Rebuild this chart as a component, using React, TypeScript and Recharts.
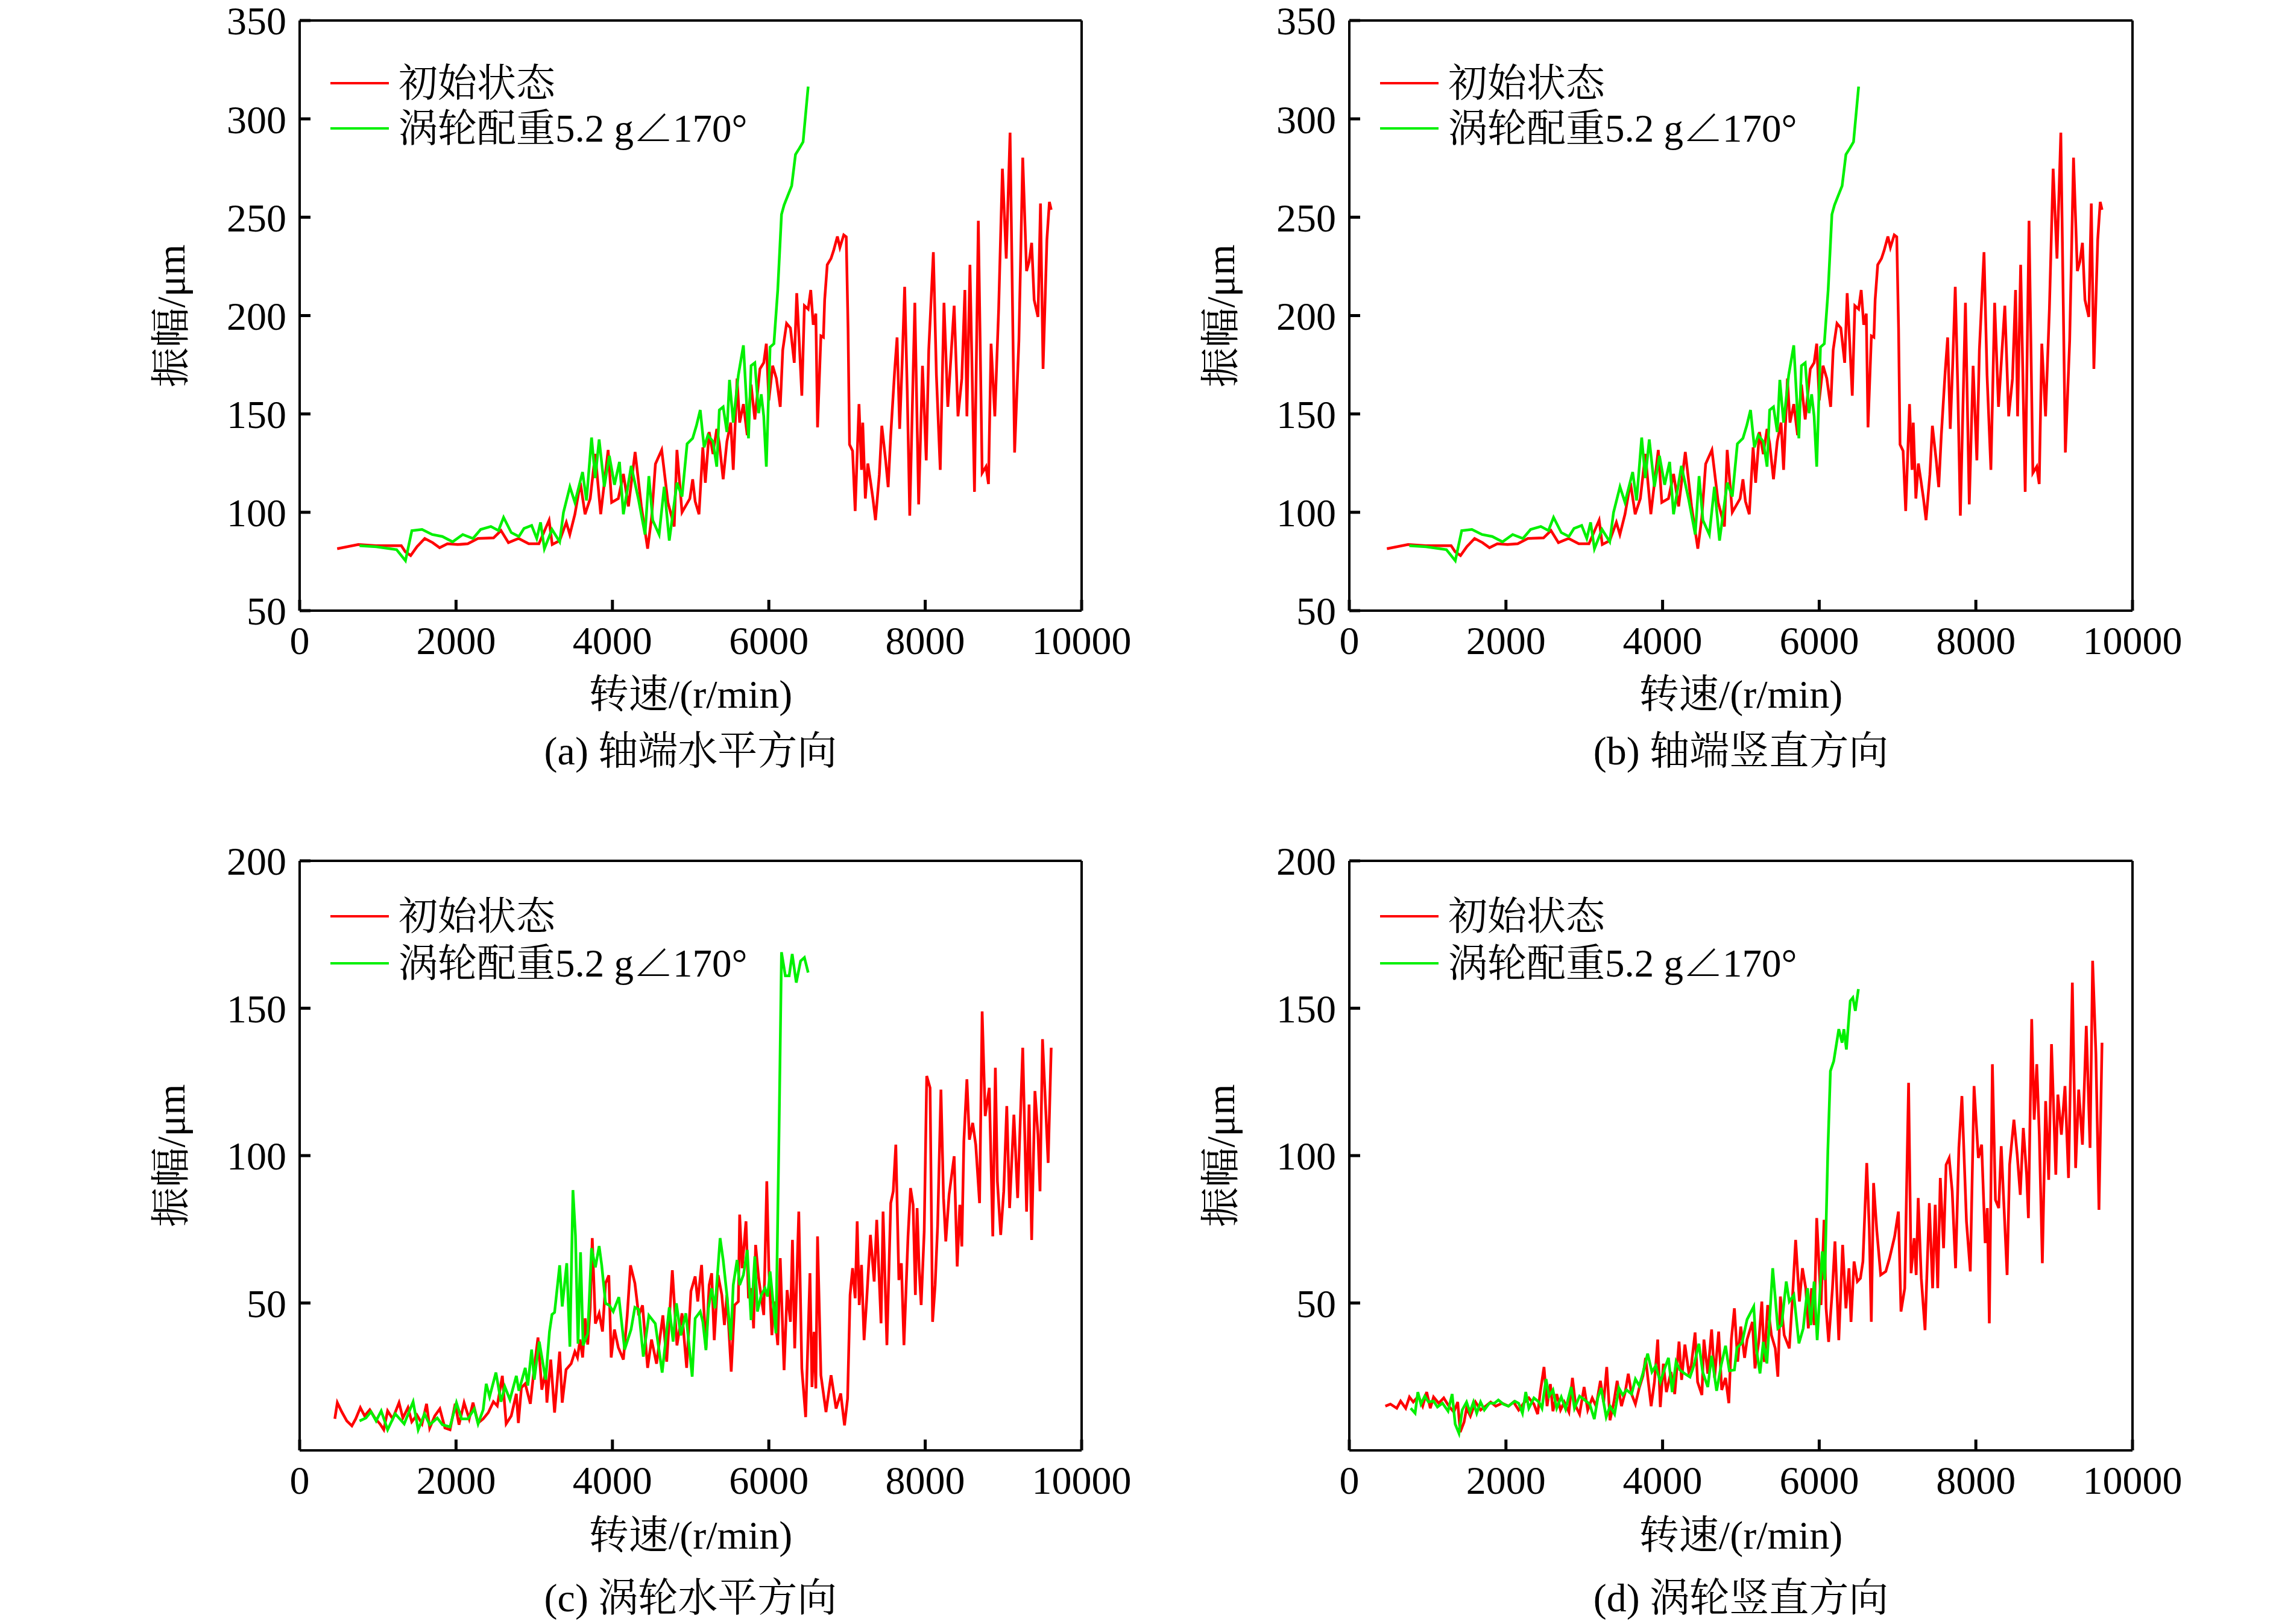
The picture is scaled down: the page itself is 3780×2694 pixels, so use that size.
import React from 'react';
import { CartesianGrid, Line, LineChart, XAxis, YAxis } from 'recharts';

const FONT = "'Liberation Serif', 'Noto Serif CJK SC', 'Noto Sans CJK SC', serif";
const RED = '#ff0000';
const GREEN = '#00f000';
const AXIS = '#000000';

const SPEED_TICKS = [0, 2000, 4000, 6000, 8000, 10000];
const SHAFT_TICKS = [50, 100, 150, 200, 250, 300, 350];
const TURBINE_TICKS = [50, 100, 150, 200];
const LEGEND = ['初始状态', '涡轮配重5.2 g∠170°'];

// [speed r/min, amplitude µm]; (a) and (b) show the same curves
const shaftInitial: [number, number][] = [
  [480, 81.5], [750, 83.6], [980, 83], [1300, 83], [1350, 80], [1420, 78], [1500, 82.5], [1600, 86.7],
  [1700, 84.6], [1790, 82], [1890, 84], [2020, 83.6], [2150, 84], [2280, 86.7], [2480, 87], [2575, 90.7],
  [2670, 84.6], [2800, 86.7], [2930, 84], [3060, 84], [3190, 96], [3230, 83.6], [3325, 85.6], [3410, 94.9],
  [3455, 88.7], [3520, 99], [3590, 115], [3650, 99], [3716, 107], [3780, 129.7], [3850, 99], [3945, 131.7],
  [3990, 105], [4075, 107], [4140, 119.5], [4205, 103], [4290, 130.7], [4370, 103], [4450, 81.5], [4500, 97],
  [4550, 124.6], [4630, 131.7], [4710, 105], [4790, 92.8], [4825, 131.7], [4890, 100], [4990, 107],
  [5026, 116.8], [5058, 105.6], [5107, 99], [5156, 133], [5188, 115], [5237, 140.8], [5286, 129.6],
  [5334, 142.4], [5367, 135], [5416, 116.8], [5464, 136], [5513, 145.6], [5545, 121.6], [5594, 168],
  [5627, 145.6], [5675, 155], [5724, 139.2], [5773, 164.9], [5821, 147.2], [5886, 172.9], [5935, 176],
  [5968, 185.7], [6000, 156.9], [6049, 174.5], [6097, 168], [6146, 153.6], [6178, 182.5], [6227, 196],
  [6276, 193.7], [6325, 176], [6357, 211.4], [6390, 185.7], [6422, 159.3], [6455, 205], [6503, 203.3],
  [6536, 213], [6568, 195.3], [6601, 201], [6623, 143.2], [6666, 189.7], [6698, 189], [6714, 208],
  [6747, 225.8], [6795, 229], [6828, 233], [6877, 240.2], [6909, 234.6], [6958, 241], [6990, 240],
  [7013, 193.7], [7032, 134.4], [7071, 131.2], [7104, 100.7], [7153, 155], [7185, 121.6], [7201, 145.6],
  [7234, 107], [7266, 124.8], [7299, 116], [7331, 107], [7364, 96], [7413, 119.2], [7445, 144],
  [7494, 126.4], [7526, 112.8], [7559, 139.2], [7608, 171.3], [7640, 188.9], [7673, 142.4], [7705, 176],
  [7737, 214.6], [7770, 161.7], [7802, 98.3], [7867, 206.5], [7916, 104], [7965, 174.5], [8013, 126.4],
  [8045, 182.5], [8104, 232.2], [8143, 169.7], [8192, 121.6], [8240, 206.5], [8289, 153.6], [8370, 205],
  [8419, 148.8], [8468, 168], [8507, 213], [8533, 148.8], [8572, 225.8], [8630, 110.4], [8679, 248.2],
  [8728, 120], [8777, 123.2], [8809, 114.4], [8842, 185.7], [8890, 148.8], [8939, 203.3], [8987, 274.7],
  [9036, 229], [9085, 293], [9143, 130.4], [9198, 187.3], [9247, 280.3], [9296, 222.6], [9328, 227.4],
  [9361, 237], [9393, 208], [9442, 199.3], [9474, 257], [9507, 172.9], [9556, 238.6], [9588, 257.8],
  [9611, 253.8],
];

const shaftBalanced: [number, number][] = [
  [766, 83], [980, 82.5], [1240, 81], [1353, 75.4], [1435, 90.7], [1565, 91.3], [1695, 88.7], [1825, 87.7],
  [1956, 85], [2086, 88.7], [2217, 86.7], [2315, 91.3], [2445, 92.8], [2543, 90.7], [2608, 97.4],
  [2706, 89.7], [2804, 87.7], [2869, 91.8], [2967, 93.3], [3032, 86.7], [3081, 94.9], [3130, 81.5],
  [3227, 91.3], [3325, 85], [3374, 100], [3456, 113], [3520, 105], [3618, 120.5], [3668, 106], [3733, 138],
  [3780, 117.4], [3830, 137], [3896, 113], [3960, 128.7], [4026, 114], [4090, 125.6], [4140, 99],
  [4240, 123.6], [4336, 106], [4417, 88.7], [4466, 118.4], [4515, 96], [4597, 88.7], [4662, 113],
  [4727, 85.6], [4825, 115], [4890, 108], [4955, 134.8], [5026, 137.6], [5074, 144], [5123, 152],
  [5172, 133], [5221, 139.2], [5286, 136], [5334, 123.2], [5367, 152], [5416, 153.6], [5464, 140.8],
  [5497, 167.3], [5545, 145.6], [5610, 169.7], [5675, 184.9], [5740, 137.6], [5773, 174.5], [5821, 176],
  [5870, 150.4], [5903, 160], [5935, 148.8], [5968, 123.2], [6016, 184], [6065, 185.7], [6114, 213],
  [6162, 251.4], [6195, 256.2], [6243, 261], [6292, 265.9], [6341, 281.9], [6390, 285], [6438, 288.3],
  [6503, 316.4],
];

const turbineHInitial: [number, number][] = [
  [450, 10.7], [482, 16.2], [538, 13.1], [603, 10], [668, 8.3], [717, 10.7], [776, 14.5], [831, 11.7],
  [897, 13.8], [962, 11], [1027, 9], [1076, 7], [1125, 13.4], [1190, 10.7], [1271, 16.2], [1320, 11],
  [1385, 14.5], [1434, 9.7], [1500, 12], [1565, 9], [1623, 15.8], [1663, 7.6], [1728, 11.7], [1793, 14.1],
  [1858, 7.6], [1923, 7], [1989, 15.8], [2038, 8.7], [2103, 16.2], [2168, 10.7], [2217, 16.2], [2282, 9.3],
  [2347, 10.7], [2412, 12.8], [2478, 16.5], [2527, 15.1], [2592, 25.3], [2641, 9], [2706, 11.7],
  [2771, 19.2], [2797, 9.3], [2836, 21.3], [2885, 22.6], [2950, 15.8], [3000, 28], [3048, 38.3],
  [3097, 20.6], [3146, 26.7], [3162, 16.2], [3211, 30.8], [3260, 12.8], [3325, 33.5], [3358, 16.2],
  [3407, 27.4], [3472, 29.4], [3520, 33.5], [3553, 31.5], [3586, 37.6], [3619, 31.5], [3651, 44.8],
  [3684, 35.9], [3716, 48.5], [3742, 72], [3782, 43], [3830, 46.5], [3873, 40.3], [3912, 56.7],
  [3954, 59.4], [3984, 31.5], [4026, 41], [4075, 34.9], [4140, 30.8], [4189, 45.8], [4231, 62.8],
  [4287, 56.7], [4336, 45.8], [4385, 49.2], [4450, 28], [4500, 37.6], [4564, 29.4], [4645, 45.8],
  [4694, 30.1], [4766, 61.1], [4825, 35.6], [4890, 46.5], [4949, 28], [5004, 54], [5058, 59], [5091, 50.5],
  [5140, 62.9], [5196, 34.6], [5237, 56.1], [5269, 60.1], [5302, 37.4], [5351, 59.5], [5399, 52.7],
  [5432, 42.5], [5464, 52.7], [5519, 26.7], [5562, 49.3], [5610, 50.5], [5627, 80], [5659, 61.8],
  [5708, 77.7], [5740, 51.6], [5779, 55], [5805, 41.4], [5831, 69.7], [5870, 58.4], [5935, 45.9],
  [5974, 91.3], [6000, 61.8], [6039, 39.1], [6065, 50.5], [6114, 35.7], [6146, 65.2], [6195, 27.2],
  [6234, 54.4], [6276, 43.6], [6302, 71.4], [6331, 34.6], [6383, 81], [6422, 27.8], [6471, 11.3],
  [6526, 60.1], [6552, 21.5], [6578, 40.2], [6601, 21], [6623, 72.6], [6666, 25.5], [6731, 13],
  [6796, 25.5], [6860, 14.2], [6919, 19.3], [6968, 8.5], [7007, 17.6], [7039, 52.7], [7071, 61.8],
  [7104, 51.6], [7130, 77.7], [7156, 49.3], [7185, 62.9], [7218, 37.4], [7250, 50.5], [7299, 73.1],
  [7347, 57.3], [7380, 78.2], [7435, 43.1], [7461, 81], [7510, 35.7], [7559, 83.9], [7591, 87.9],
  [7624, 103.7], [7663, 57.8], [7695, 63.5], [7728, 35.7], [7780, 72.6], [7812, 89], [7845, 83.3],
  [7874, 52.7], [7896, 82.2], [7922, 61.8], [7948, 49.3], [7987, 74.3], [8019, 127], [8062, 123],
  [8094, 43.6], [8127, 56.1], [8159, 76.5], [8201, 122.4], [8234, 85.6], [8263, 70.9], [8305, 86.7],
  [8370, 99.8], [8409, 62.4], [8442, 83.3], [8468, 69.2], [8494, 104.9], [8533, 125.9], [8565, 105.4],
  [8607, 111.1], [8646, 103.7], [8695, 83.9], [8728, 148.9], [8767, 113.4], [8819, 123], [8864, 72.6],
  [8897, 129.8], [8923, 91.3], [8965, 73.1], [9004, 87.9], [9043, 116.8], [9079, 82.2], [9134, 113.9],
  [9182, 85.6], [9247, 136.6], [9296, 81], [9328, 117.3], [9361, 71.4], [9403, 121.9], [9442, 107.1],
  [9468, 87.9], [9500, 139.5], [9572, 97.5], [9611, 136.6],
];

const turbineHBalanced: [number, number][] = [
  [766, 10], [848, 11], [913, 13.1], [978, 10], [1043, 13.4], [1125, 7], [1222, 12.4], [1337, 9],
  [1451, 16.5], [1516, 7], [1597, 12.4], [1663, 8.7], [1760, 11], [1826, 8.7], [1923, 8], [2005, 16.2],
  [2070, 10.7], [2152, 10.7], [2233, 14.1], [2282, 9], [2347, 13.8], [2386, 22.6], [2429, 18.2],
  [2510, 26.4], [2575, 16.5], [2624, 21.6], [2689, 17.2], [2771, 25.3], [2804, 20.2], [2885, 28],
  [2918, 22], [2967, 34.2], [3000, 24], [3064, 36.9], [3146, 24], [3195, 40.3], [3227, 46.1], [3260, 46.8],
  [3325, 62.8], [3358, 48.8], [3416, 63.5], [3456, 35.2], [3495, 88.3], [3527, 73], [3560, 36.2],
  [3592, 67.2], [3625, 35.6], [3684, 39.6], [3733, 68.6], [3782, 62.1], [3830, 69.3], [3863, 62.8],
  [3912, 49.9], [3961, 49.2], [4010, 47.1], [4082, 52], [4156, 34.2], [4238, 41], [4287, 48.5],
  [4336, 47.8], [4395, 31.8], [4466, 45.8], [4548, 43], [4636, 26.4], [4727, 48.5], [4776, 36.9],
  [4818, 49.9], [4874, 39], [4939, 46.5], [5020, 25], [5058, 44.8], [5123, 47.1], [5156, 43.6], [5196, 34],
  [5228, 48.2], [5269, 55], [5312, 48.2], [5377, 72], [5416, 64.6], [5464, 52.7], [5513, 37.4],
  [5545, 56.1], [5594, 64.6], [5627, 56.1], [5675, 59.5], [5724, 68], [5773, 44.2], [5821, 65.8],
  [5854, 47.1], [5903, 52.7], [5951, 55], [5984, 52.2], [6016, 60.7], [6058, 49.3], [6091, 39.7],
  [6130, 107.1], [6162, 169], [6211, 161], [6260, 161], [6299, 168.4], [6351, 158.7], [6406, 166],
  [6455, 167.2], [6503, 162.1],
];

const turbineVInitial: [number, number][] = [
  [460, 15], [525, 15.7], [606, 14.3], [655, 16.7], [720, 14.3], [768, 18.1], [817, 16.4], [882, 18.4],
  [937, 15], [988, 19.8], [1034, 14.3], [1076, 18.1], [1141, 16], [1206, 17.8], [1271, 15], [1335, 13],
  [1384, 16.4], [1416, 6.2], [1465, 9.6], [1497, 14.3], [1546, 11.6], [1611, 16.4], [1676, 13.7],
  [1740, 15], [1805, 16.4], [1870, 15], [1951, 16], [2032, 15], [2097, 16.4], [2162, 13.7], [2227, 16],
  [2292, 17.8], [2357, 15.7], [2405, 12.3], [2438, 19.8], [2486, 28.3], [2525, 15], [2567, 22.5],
  [2600, 13.3], [2648, 19.1], [2697, 13.7], [2745, 16.4], [2804, 13], [2849, 24.6], [2891, 15],
  [2940, 12.3], [2998, 21.5], [3044, 13.7], [3102, 17.8], [3151, 15], [3206, 23.6], [3248, 16.4],
  [3287, 28.3], [3329, 10.2], [3378, 16.4], [3420, 23.6], [3475, 15], [3523, 19.8], [3562, 26],
  [3604, 19.1], [3653, 15.7], [3702, 21.2], [3750, 25.3], [3783, 31.4], [3815, 23.9], [3854, 15],
  [3896, 23.2], [3938, 37.6], [3971, 14.7], [4010, 29.4], [4049, 19.8], [4107, 26.6], [4155, 19.1],
  [4210, 36.9], [4243, 23.9], [4285, 35.9], [4334, 26.6], [4366, 28.7], [4415, 40], [4447, 23.2],
  [4502, 18.8], [4528, 37.6], [4577, 26], [4626, 41], [4664, 24.6], [4716, 40.3], [4755, 20.5],
  [4804, 24.6], [4846, 16], [4878, 37.6], [4917, 48.2], [4959, 30.1], [4998, 42], [5047, 31.4],
  [5079, 37.6], [5147, 43.6], [5180, 27.8], [5228, 36.8], [5267, 50.5], [5299, 30], [5342, 49.3],
  [5390, 39.1], [5439, 34.6], [5472, 25], [5504, 52.2], [5553, 39.1], [5618, 34.6], [5656, 50.5],
  [5699, 71.4], [5747, 50.5], [5786, 61.8], [5828, 55], [5861, 41.4], [5903, 55], [5935, 42.5],
  [5968, 78.8], [6023, 49.3], [6062, 78.2], [6088, 48.2], [6120, 36.8], [6169, 55], [6201, 70.9],
  [6250, 37.4], [6299, 69.7], [6341, 48.2], [6380, 61.8], [6406, 43.6], [6445, 64.1], [6487, 57.3],
  [6526, 58.4], [6558, 64.1], [6607, 97.5], [6639, 75.4], [6665, 43.6], [6694, 90.7], [6736, 74.3],
  [6785, 59.5], [6850, 60.7], [6898, 65.2], [6963, 72.6], [7011, 81], [7044, 47.1], [7092, 55],
  [7141, 124.7], [7173, 60.1], [7212, 72], [7238, 59.5], [7264, 85.6], [7303, 58.4], [7351, 40.8],
  [7406, 83.9], [7448, 55], [7481, 83.3], [7513, 55], [7546, 92.4], [7588, 68.6], [7620, 96.9],
  [7659, 99.2], [7698, 87.9], [7741, 61.8], [7783, 102.6], [7822, 120.2], [7880, 77.7], [7929, 60.7],
  [7977, 123.6], [8032, 99.2], [8074, 103.7], [8119, 70.3], [8146, 82.2], [8172, 43.1], [8211, 131],
  [8250, 85], [8292, 82.2], [8324, 103.2], [8399, 59.5], [8431, 96.9], [8486, 112.2], [8528, 100.3],
  [8567, 86.7], [8606, 109.4], [8648, 93.5], [8671, 78.8], [8713, 146.3], [8745, 112.2], [8778, 131],
  [8810, 107.1], [8849, 63.5], [8891, 118.5], [8930, 91.8], [8966, 137.8], [9021, 93.5], [9047, 120.7],
  [9092, 107.1], [9138, 123.6], [9183, 92.4], [9232, 158.7], [9274, 95.8], [9313, 122.4], [9361, 103.7],
  [9410, 144], [9458, 102.6], [9491, 166.1], [9533, 134.4], [9572, 81.6], [9611, 138.3],
];

const turbineVBalanced: [number, number][] = [
  [784, 14.3], [840, 12.6], [875, 19.8], [914, 15.7], [963, 18.4], [1011, 16.4], [1076, 16.7], [1125, 14.7],
  [1190, 16], [1261, 13.3], [1313, 19.1], [1352, 8.9], [1400, 5.8], [1442, 13.7], [1497, 16.4], [1540, 13],
  [1585, 16.4], [1627, 12.6], [1676, 16.4], [1724, 13.7], [1789, 16], [1854, 16], [1903, 17.1],
  [1967, 15.7], [2032, 15], [2113, 16.7], [2162, 16], [2211, 12.6], [2253, 19.8], [2292, 14.3],
  [2357, 17.8], [2421, 16.4], [2460, 14.3], [2512, 24.2], [2551, 18.4], [2600, 20.5], [2648, 14.3],
  [2706, 18.1], [2762, 14], [2833, 21.5], [2875, 14.3], [2940, 18.4], [3005, 17.1], [3070, 15.7],
  [3128, 10.6], [3173, 17.8], [3215, 21.2], [3280, 11.3], [3329, 15], [3387, 12.3], [3442, 21.2],
  [3491, 18.8], [3540, 20.5], [3604, 19.1], [3653, 24.2], [3702, 21.9], [3750, 26.3], [3809, 32.8],
  [3864, 26.6], [3912, 28.7], [3971, 23.2], [4026, 27.7], [4075, 31.4], [4123, 19.8], [4172, 30.1],
  [4220, 27.3], [4285, 26], [4350, 24.9], [4399, 28.7], [4464, 36.2], [4512, 26.6], [4577, 21.5],
  [4626, 32.1], [4690, 20.2], [4749, 29], [4804, 35.5], [4852, 27], [4917, 27.3], [4950, 34.8],
  [5014, 36.5], [5079, 44.4], [5164, 48.8], [5196, 34.6], [5244, 26.1], [5286, 36.8], [5332, 29.5],
  [5406, 61.8], [5472, 41.4], [5520, 42.5], [5579, 57.3], [5618, 50.5], [5676, 52.7], [5741, 36.3],
  [5796, 41.4], [5851, 55], [5893, 42.5], [5935, 57.3], [5974, 37.4], [6039, 67.5], [6071, 57.8],
  [6110, 101.5], [6143, 128.7], [6185, 132], [6250, 142.9], [6292, 138.3], [6315, 142.9], [6347, 136],
  [6396, 152.5], [6429, 153.6], [6461, 149.1], [6500, 156.5],
];

const toRows = (pts: [number, number][]) => pts.map(([x, y]) => ({ x, y }));

const textStyle: React.CSSProperties = {
  position: 'absolute',
  fontFamily: FONT,
  fontSize: 66,
  lineHeight: 1,
  color: '#000',
  whiteSpace: 'nowrap',
};

// shared frame geometry for the grid layer and the data layer
const ML = 300;
const MR = 140;
const MB = 90;
const YW = 200;
const TICK = -18;

type PanelProps = {
  left: number;
  top: number;
  width: number;
  height: number;
  yDomain: [number, number];
  yTicks: number[];
  initial: [number, number][];
  balanced: [number, number][];
  caption: string;
  hGrid: string;
  titleDy: number;
  captionDy: number;
  legendRows: [number, number];
  legendBox: [number, number];
};

function Panel(p: PanelProps) {
  const mt = Math.min(p.top, 60);
  const axisLine = { stroke: AXIS, strokeWidth: 4 };
  const tickLine = { stroke: AXIS, strokeWidth: 5 };
  const tick = { fill: '#000', fontSize: 66, fontFamily: FONT };
  const bottom = p.top + p.height;
  const chartW = ML + p.width + MR;
  const chartH = mt + p.height + MB;
  const gridMargin = { top: mt, right: MR, left: ML - YW, bottom: 0 };
  const dataMargin = { top: mt - 1, right: MR - 1, left: ML - YW, bottom: 0 };
  const initialRows = toRows(p.initial);
  const balancedRows = toRows(p.balanced);
  const wrap: React.CSSProperties = { position: 'absolute', left: p.left - ML, top: p.top - mt };

  return (
    <>
      {/* grid drawn in its own layer so the black frame and ticks sit on top of it */}
      <div style={wrap}>
        <LineChart width={chartW} height={chartH} margin={gridMargin}>
          <CartesianGrid horizontal={false} stroke="#d9d9d9" strokeWidth={3.5} />
          <CartesianGrid vertical={false} stroke={p.hGrid} strokeWidth={3.5} />
          <XAxis
            type="number"
            dataKey="x"
            domain={[0, 10000]}
            ticks={SPEED_TICKS}
            interval={0}
            height={MB}
            tick={false}
            axisLine={false}
            tickLine={false}
          />
          <YAxis
            type="number"
            domain={p.yDomain}
            ticks={p.yTicks}
            interval={0}
            width={YW}
            tick={false}
            axisLine={false}
            tickLine={false}
          />
          <Line data={initialRows} dataKey="y" stroke="none" dot={false} isAnimationActive={false} />
        </LineChart>
      </div>

      <div
        style={{
          position: 'absolute',
          left: p.left + 33,
          top: p.top + p.legendBox[0],
          width: 729,
          height: p.legendBox[1] - p.legendBox[0],
          background: '#fff',
        }}
      />

      <div style={wrap}>
        <LineChart width={chartW} height={chartH} margin={dataMargin}>
          <XAxis
            type="number"
            dataKey="x"
            domain={[0, 10000]}
            ticks={SPEED_TICKS}
            interval={0}
            height={MB}
            tickSize={TICK}
            tickMargin={43}
            axisLine={axisLine}
            tickLine={tickLine}
            tick={tick}
          />
          <XAxis
            xAxisId="top"
            orientation="top"
            type="number"
            domain={[0, 10000]}
            ticks={SPEED_TICKS}
            interval={0}
            height={1}
            tick={false}
            tickSize={TICK}
            axisLine={axisLine}
            tickLine={tickLine}
          />
          <YAxis
            type="number"
            domain={p.yDomain}
            ticks={p.yTicks}
            interval={0}
            width={YW}
            tickSize={TICK}
            tickMargin={40}
            axisLine={axisLine}
            tickLine={tickLine}
            tick={tick}
          />
          <YAxis
            yAxisId="right"
            orientation="right"
            type="number"
            domain={p.yDomain}
            ticks={p.yTicks}
            interval={0}
            width={1}
            tick={false}
            tickSize={TICK}
            axisLine={axisLine}
            tickLine={tickLine}
          />
          <Line
            data={initialRows}
            dataKey="y"
            type="linear"
            stroke={RED}
            strokeWidth={4.5}
            dot={false}
            isAnimationActive={false}
          />
          <Line
            data={balancedRows}
            dataKey="y"
            type="linear"
            stroke={GREEN}
            strokeWidth={4.5}
            dot={false}
            isAnimationActive={false}
          />
        </LineChart>
      </div>

      {LEGEND.map((name, i) => (
        <React.Fragment key={name}>
          <div
            style={{
              position: 'absolute',
              left: p.left + 51,
              top: p.top + p.legendRows[i] - 2,
              width: 97,
              height: 4,
              background: i === 0 ? RED : GREEN,
            }}
          />
          <div
            style={{
              ...textStyle,
              fontSize: 65,
              left: p.left + 164,
              top: p.top + p.legendRows[i],
              transform: 'translateY(-50%)',
            }}
          >
            {name}
          </div>
        </React.Fragment>
      ))}

      <div
        style={{
          ...textStyle,
          left: p.left - 213,
          top: p.top + p.height / 2,
          transform: 'translate(-50%, -50%) rotate(-90deg)',
        }}
      >
        振幅/μm
      </div>
      <div
        style={{
          ...textStyle,
          left: p.left + p.width / 2,
          top: bottom + p.titleDy,
          transform: 'translate(-50%, -50%)',
        }}
      >
        转速/(r/min)
      </div>
      <div
        style={{
          ...textStyle,
          left: p.left + p.width / 2,
          top: bottom + p.captionDy,
          transform: 'translate(-50%, -50%)',
        }}
      >
        {p.caption}
      </div>
    </>
  );
}

export default function App() {
  return (
    <div
      style={{
        position: 'absolute',
        left: 0,
        top: 0,
        width: 3780,
        height: 2694,
        background: '#fff',
        overflow: 'hidden',
      }}
    >
      <Panel
        left={497}
        top={34}
        width={1297}
        height={979}
        yDomain={[50, 350]}
        yTicks={SHAFT_TICKS}
        initial={shaftInitial}
        balanced={shaftBalanced}
        caption="(a) 轴端水平方向"
        hGrid="#b4b4b4"
        titleDy={139}
        captionDy={233}
        legendRows={[104, 179]}
        legendBox={[63, 227]}
      />
      <Panel
        left={2238}
        top={34}
        width={1299}
        height={979}
        yDomain={[50, 350]}
        yTicks={SHAFT_TICKS}
        initial={shaftInitial}
        balanced={shaftBalanced}
        caption="(b) 轴端竖直方向"
        hGrid="#b4b4b4"
        titleDy={139}
        captionDy={233}
        legendRows={[104, 179]}
        legendBox={[63, 227]}
      />
      <Panel
        left={497}
        top={1428}
        width={1297}
        height={978}
        yDomain={[0, 200]}
        yTicks={TURBINE_TICKS}
        initial={turbineHInitial}
        balanced={turbineHBalanced}
        caption="(c) 涡轮水平方向"
        hGrid="#d2d2d2"
        titleDy={141}
        captionDy={245}
        legendRows={[92, 170]}
        legendBox={[50, 212]}
      />
      <Panel
        left={2238}
        top={1428}
        width={1299}
        height={978}
        yDomain={[0, 200]}
        yTicks={TURBINE_TICKS}
        initial={turbineVInitial}
        balanced={turbineVBalanced}
        caption="(d) 涡轮竖直方向"
        hGrid="#d2d2d2"
        titleDy={141}
        captionDy={245}
        legendRows={[92, 170]}
        legendBox={[50, 212]}
      />
    </div>
  );
}
